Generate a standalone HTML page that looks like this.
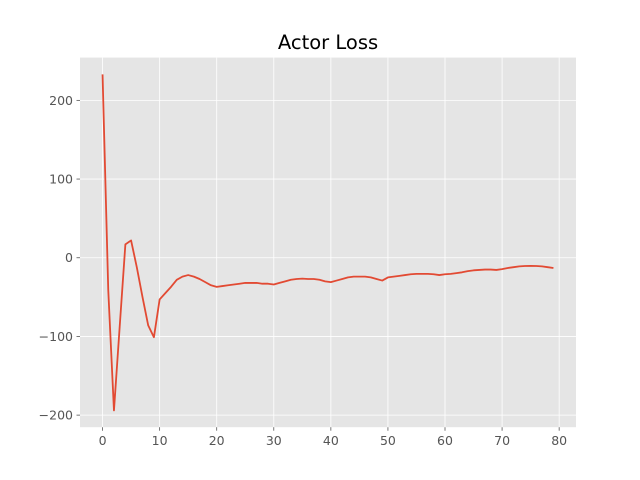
<!DOCTYPE html>
<html><head><meta charset="utf-8"><style>
body{margin:0;background:#fff;}
svg{display:block;font-family:"DejaVu Sans","Liberation Sans",sans-serif;}
</style></head><body>
<svg id="chart" width="640" height="480"></svg>
<script>
const xTicks=[0,10,20,30,40,50,60,70,80];
const yTicks=[-200,-100,0,100,200];
const lossValues=[233,-41,-194,-88,17,22,-12,-50,-86,-101,-53,-45,-37,-28,-24,-22,-24,-27,-31,-35,-37,-36,-35,-34,-33,-32,-32,-32,-33,-33,-34,-32,-30,-28,-27,-26.5,-27,-27,-28,-30,-31,-29,-27,-25,-24,-24,-24,-25,-27,-29,-25,-24,-23,-22,-21,-20.5,-20.5,-20.5,-21,-22,-21,-20.5,-19.5,-18.5,-17,-16,-15.5,-15,-15,-15.5,-14.5,-13,-12,-11,-10.5,-10.3,-10.5,-11,-12,-13];
const NS="http://www.w3.org/2000/svg";
const svg=document.getElementById('chart');
const L=80,R=576,T=57.6,B=427.2;
const n=lossValues.length;
const xmin=-0.05*(n-1),xmax=(n-1)*1.05;
const ymaxD=Math.max(...lossValues),yminD=Math.min(...lossValues),pad=(ymaxD-yminD)*0.05;
const ymin=yminD-pad,ymax=ymaxD+pad;
const sx=v=>L+(v-xmin)/(xmax-xmin)*(R-L);
const sy=v=>B-(v-ymin)/(ymax-ymin)*(B-T);
function mk(t,a){const e=document.createElementNS(NS,t);for(const k in a)e.setAttribute(k,a[k]);svg.appendChild(e);return e;}
const bg=mk('rect',{x:L,y:T,width:R-L,height:B-T,fill:'#e5e5e5'});


xTicks.forEach(t=>{const x=sx(t);
 const g=mk('line',{x1:x,x2:x,y1:T,y2:B,stroke:'#fff','stroke-width':0.8});
 
 
 mk('line',{x1:x,x2:x,y1:B,y2:B+3.5,stroke:'#555','stroke-width':0.8});
 const tx=mk('text',{x:x,y:B+18,'text-anchor':'middle','font-size':12.5,fill:'#555'});tx.textContent=t;
 
 
});
yTicks.forEach(t=>{const y=sy(t);
 const g=mk('line',{x1:L,x2:R,y1:y,y2:y,stroke:'#fff','stroke-width':0.8});
 
 
 mk('line',{x1:L-3.5,x2:L,y1:y,y2:y,stroke:'#555','stroke-width':0.8});
 const tx=mk('text',{x:L-7,y:y+4.5,'text-anchor':'end','font-size':12.5,fill:'#555'});tx.textContent=(t<0?'\u2212'+(-t):t);
 
 
});
const pts=lossValues.map((v,i)=>sx(i).toFixed(2)+','+sy(v).toFixed(2)).join(' ');
const line=mk('polyline',{points:pts,fill:'none',stroke:'#E24A33','stroke-width':1.8,'stroke-linejoin':'round'});


const title=mk('text',{x:(L+R)/2,y:49,'text-anchor':'middle','font-size':19.5,fill:'#000'});
title.textContent='Actor Loss';


</script>
</body></html>
